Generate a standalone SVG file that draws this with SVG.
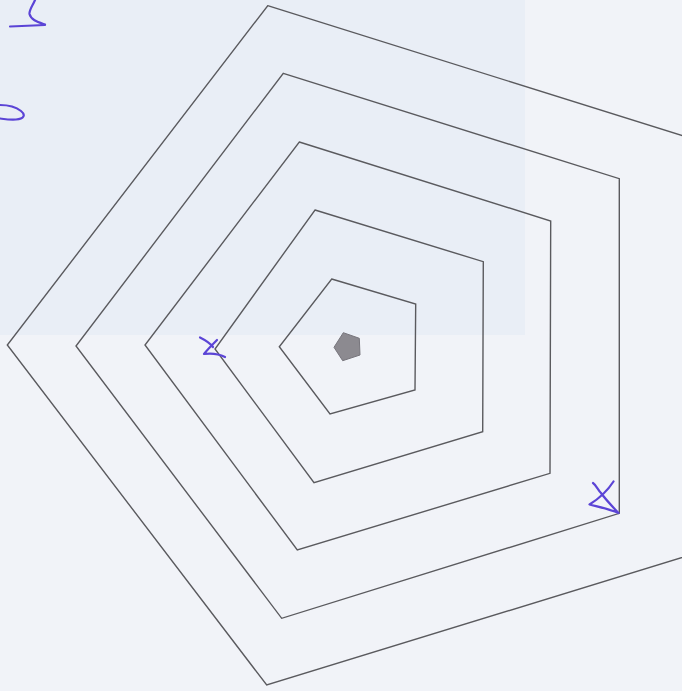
<svg xmlns="http://www.w3.org/2000/svg" width="682" height="691" viewBox="0 0 682 691">
  <style>
    .ring { fill: none; stroke: #5a5a5e; stroke-width: 1.4; stroke-linejoin: miter; }
    .ink { fill: none; stroke: #5b44d6; stroke-width: 2.2; stroke-linecap: round; stroke-linejoin: round; }
  </style>
  <rect x="0" y="0" width="682" height="691" fill="#f1f3f8"/>
  <rect x="0" y="0" width="525" height="335" fill="#e9eef6"/>
  <g id="pentagons">
    <polygon id="ring5" class="ring" points="267.7,5.7 690,138 690,555 266.7,685 7.3,345"/>
    <polygon id="ring4" class="ring" points="283.3,73.3 619.3,178.7 619.3,513.3 281.7,618.3 76,346"/>
    <polygon id="ring3" class="ring" points="299.3,142 550.7,221 550,473.3 297.3,550 145,345"/>
    <polygon id="ring2" class="ring" points="315,210 483.3,261.7 482.7,431.7 314,482.7 215,349"/>
    <polygon id="ring1" class="ring" points="331.7,279 415.7,304 415,390 330,414 279.3,346.7"/>
    <polygon id="core" points="343.3,332.7 359.3,338.3 360,355 342.7,360.7 334,347.3" fill="#8c8a90" stroke="#77757c" stroke-width="1"/>
  </g>
  <g id="handwriting">
    <path class="ink" d="M35,0 C33,5 29,10 29.5,14 C31,20 38,22 45,24.5 M10,26.5 C20,26 35,25.5 45,25"/>
    <path class="ink" d="M0,105 C8,105 16,107 21,111 C26,115 24,119 16,119.5 C10,120 4,119 0,118.5"/>
    <path class="ink" d="M200,337.5 C205,340 210,343 213,347 M217,340 C212,345 207,350 204,354 C211,353 219,354 225,357"/>
    <path class="ink" d="M613.5,481.5 C608,490 600,498 589.5,504.5 C599,507 609,509 618.5,513 M593,483 C596,485 598,490 601,493 C606,500 612,506 618.5,513"/>
  </g>
</svg>
